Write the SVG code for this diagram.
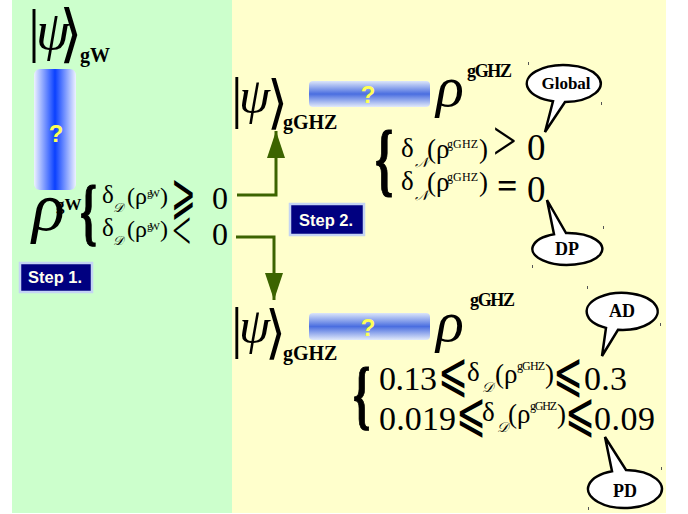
<svg xmlns="http://www.w3.org/2000/svg" width="688" height="514" viewBox="0 0 688 514">
<defs>
<style>
.s{font-family:"Liberation Serif","Times New Roman","DejaVu Serif",serif;fill:#000}
.b{font-weight:bold}
.i{font-style:italic}
.br{font-family:"Liberation Serif","DejaVu Serif",serif;font-weight:bold;stroke:#000;stroke-width:1.2}
.q{font-family:"Liberation Sans",Arial,sans-serif;font-weight:bold;fill:#ffff55;text-anchor:middle}
.step rect{fill:#000080;stroke:#c4d4f4;stroke-width:2.5}
.step text{font-family:"Liberation Sans",Arial,sans-serif;font-weight:bold;fill:#fffff0;font-size:16.5px}
.bub path{fill:#fff;stroke:#000;stroke-width:2.5}
.bub text{font-family:"Liberation Serif","DejaVu Serif",serif;font-weight:bold;text-anchor:middle}
.con{fill:none;stroke:#3c6400;stroke-width:3}
.dot{fill:#555}
</style>
<linearGradient id="gv" x1="0" y1="0" x2="1" y2="0">
<stop offset="0" stop-color="#eef2ff"/>
<stop offset="0.5" stop-color="#0a40ff"/>
<stop offset="1" stop-color="#eef2ff"/>
</linearGradient>
<linearGradient id="gh" x1="0" y1="0" x2="0" y2="1">
<stop offset="0" stop-color="#dce6fa"/>
<stop offset="0.5" stop-color="#4a6ee0"/>
<stop offset="1" stop-color="#e2eafa"/>
</linearGradient>
<marker id="ah" markerUnits="userSpaceOnUse" markerWidth="28" markerHeight="20" refX="27" refY="9" orient="auto">
<path d="M0,0 L27,9 L0,18 Z" fill="#3c6400"/>
</marker>
</defs>

<rect x="12" y="0" width="220" height="513" fill="#ccffcc"/>
<rect x="232" y="0" width="434" height="513" fill="#ffffcc"/>

<g id="connectors">
<path class="con" d="M237,195 H276 V131" marker-end="url(#ah)"/>
<path class="con" d="M236,237 H274 V300" marker-end="url(#ah)"/>
</g>

<g id="psi-gW">
<text class="s" font-size="60" x="28" y="50"><tspan>|</tspan><tspan class="i" font-size="54" x="36" y="49">ψ</tspan></text>
<text class="s" transform="translate(59,55) scale(1.45,1.5)" font-size="42">⟩</text>
<text class="s b" font-size="20" x="80" y="62">gW</text>
</g>

<g id="op-left">
<rect x="34" y="69" width="42" height="121" rx="6" fill="url(#gv)"/>
<text class="q" font-size="24" x="56" y="142">?</text>
</g>

<g id="rho-gW">
<text class="s i" font-size="68" x="32" y="230">ρ</text>
<text class="s b" font-size="17" x="56" y="210">gW</text>
<text class="br" font-size="74" transform="translate(80,237) scale(0.58,1)">{</text>
<text class="s" font-size="25" x="102" y="203">δ<tspan class="i" font-size="13" x="113" y="212">𝒟</tspan><tspan font-size="24" x="127" y="204">(ρ</tspan><tspan font-size="11" x="147" y="197" textLength="13">gW</tspan><tspan font-size="24" x="160" y="204">)</tspan></text>
<text class="s" font-size="42" transform="translate(171,213) scale(0.7,1.35)">⩾</text>
<text class="s" font-size="32" x="212" y="209">0</text>
<text class="s" font-size="25" x="102" y="236">δ<tspan class="i" font-size="13" x="113" y="245">𝒟</tspan><tspan font-size="24" x="127" y="237">(ρ</tspan><tspan font-size="11" x="147" y="230" textLength="13">gW</tspan><tspan font-size="24" x="160" y="237">)</tspan></text>
<text class="s" font-size="34" transform="translate(172,249) scale(1,1.6)">&lt;</text>
<text class="s" font-size="32" x="212" y="245">0</text>
</g>

<g id="step1" class="step">
<rect x="20" y="263" width="72" height="29"/>
<text x="28" y="283">Step 1.</text>
</g>

<g id="step2" class="step">
<rect x="290" y="204" width="74" height="31"/>
<text x="299" y="226">Step 2.</text>
</g>

<g id="psi-gGHZ-top">
<text class="s" font-size="58" x="231" y="117"><tspan>|</tspan><tspan class="i" font-size="50" x="239" y="113">ψ</tspan></text>
<text class="s" transform="translate(267,122) scale(1.35,1.45)" font-size="40">⟩</text>
<text class="s b" font-size="20" x="283" y="129">gGHZ</text>
</g>

<g id="op-top">
<rect x="309" y="81" width="121" height="26" rx="4" fill="url(#gh)"/>
<text class="q" font-size="24" x="368" y="103">?</text>
</g>

<g id="rho-gGHZ-top">
<text class="s i" font-size="58" x="436" y="106">ρ</text>
<text class="s b" font-size="18" x="467" y="77" textLength="45">gGHZ</text>
<text class="br" font-size="80" transform="translate(375,186) scale(0.58,1)">{</text>
<text class="s" font-size="27" x="401" y="157">δ<tspan class="i" font-size="14" x="415" y="167">𝒩</tspan><tspan x="427" y="158">(ρ</tspan><tspan font-size="12" x="447" y="148" textLength="31">gGHZ</tspan><tspan x="479" y="158">)</tspan></text>
<text class="s" font-size="40" transform="translate(493,160) scale(1.05,1.4)">&gt;</text>
<text class="s" font-size="37" x="527" y="160">0</text>
<text class="s" font-size="27" x="401" y="190">δ<tspan class="i" font-size="14" x="415" y="200">𝒩</tspan><tspan x="427" y="191">(ρ</tspan><tspan font-size="12" x="447" y="181" textLength="31">gGHZ</tspan><tspan x="479" y="191">)</tspan></text>
<text class="s b" font-size="36" x="497" y="198">=</text>
<text class="s" font-size="37" x="527" y="202">0</text>
</g>

<g id="psi-gGHZ-bottom">
<text class="s" font-size="58" x="231" y="347"><tspan>|</tspan><tspan class="i" font-size="50" x="239" y="343">ψ</tspan></text>
<text class="s" transform="translate(265,352) scale(1.35,1.45)" font-size="40">⟩</text>
<text class="s b" font-size="20" x="283" y="360">gGHZ</text>
</g>

<g id="op-bottom">
<rect x="309" y="313" width="121" height="27" rx="4" fill="url(#gh)"/>
<text class="q" font-size="24" x="368" y="336">?</text>
</g>

<g id="rho-gGHZ-bottom">
<text class="s i" font-size="58" x="436" y="341">ρ</text>
<text class="s b" font-size="18" x="470" y="306" textLength="45">gGHZ</text>
<text class="br" font-size="76" transform="translate(353,420) scale(0.58,1)">{</text>
<text class="s" font-size="34" x="379" y="390" textLength="58">0.13</text>
<text class="s" font-size="42" transform="translate(438,391) scale(0.85,1.3)">⩽</text>
<text class="s" font-size="27" x="467" y="381">δ<tspan class="i" font-size="14" x="482" y="392">𝒟</tspan><tspan font-size="27" x="495" y="383">(ρ</tspan><tspan font-size="12" x="517" y="370" textLength="28">gGHZ</tspan><tspan font-size="27" x="545" y="383">)</tspan></text>
<text class="s" font-size="42" transform="translate(553,391) scale(0.85,1.3)">⩽</text>
<text class="s" font-size="34" x="584" y="390" textLength="43">0.3</text>
<text class="s" font-size="34" x="379" y="430" textLength="77">0.019</text>
<text class="s" font-size="42" transform="translate(456,431) scale(0.85,1.3)">⩽</text>
<text class="s" font-size="27" x="482" y="421">δ<tspan class="i" font-size="14" x="497" y="432">𝒟</tspan><tspan font-size="27" x="508" y="423">(ρ</tspan><tspan font-size="12" x="530" y="410" textLength="27">gGHZ</tspan><tspan font-size="27" x="557" y="423">)</tspan></text>
<text class="s" font-size="42" transform="translate(565,431) scale(0.85,1.3)">⩽</text>
<text class="s" font-size="34" x="594" y="430" textLength="61">0.09</text>
</g>

<g id="bubble-global" class="bub">
<path d="M553,101.2 L545,132 L565,102 A37,18.5 0 1 0 553,101.2 Z"/>
<text font-size="17" x="566" y="89">Global</text>
</g>
<g id="bubble-dp" class="bub">
<path d="M554,234.2 L547,200 L566,233 A35,16 0 1 1 554,234.2 Z"/>
<text font-size="18" x="567" y="255">DP</text>
</g>
<g id="bubble-ad" class="bub">
<path d="M606,327.9 L602,356 L618,329.8 A35.5,18.5 0 1 0 606,327.9 Z"/>
<text font-size="18" x="622" y="317">AD</text>
</g>
<g id="bubble-pd" class="bub">
<path d="M612,471.2 L605,437 L626,470 A37,19 0 1 1 612,471.2 Z"/>
<text font-size="18" x="625" y="497">PD</text>
</g>

<g id="marks">
<rect class="dot" x="528" y="62" width="1" height="3"/>
<rect class="dot" x="601" y="102" width="1" height="3"/>
<rect class="dot" x="603" y="226" width="1" height="3"/>
<rect class="dot" x="532" y="265" width="1" height="3"/>
<rect class="dot" x="587" y="286" width="1" height="3"/>
<rect class="dot" x="660" y="323" width="1" height="3"/>
<rect class="dot" x="661" y="467" width="1" height="3"/>
<rect class="dot" x="588" y="507" width="1" height="3"/>
</g>
</svg>
